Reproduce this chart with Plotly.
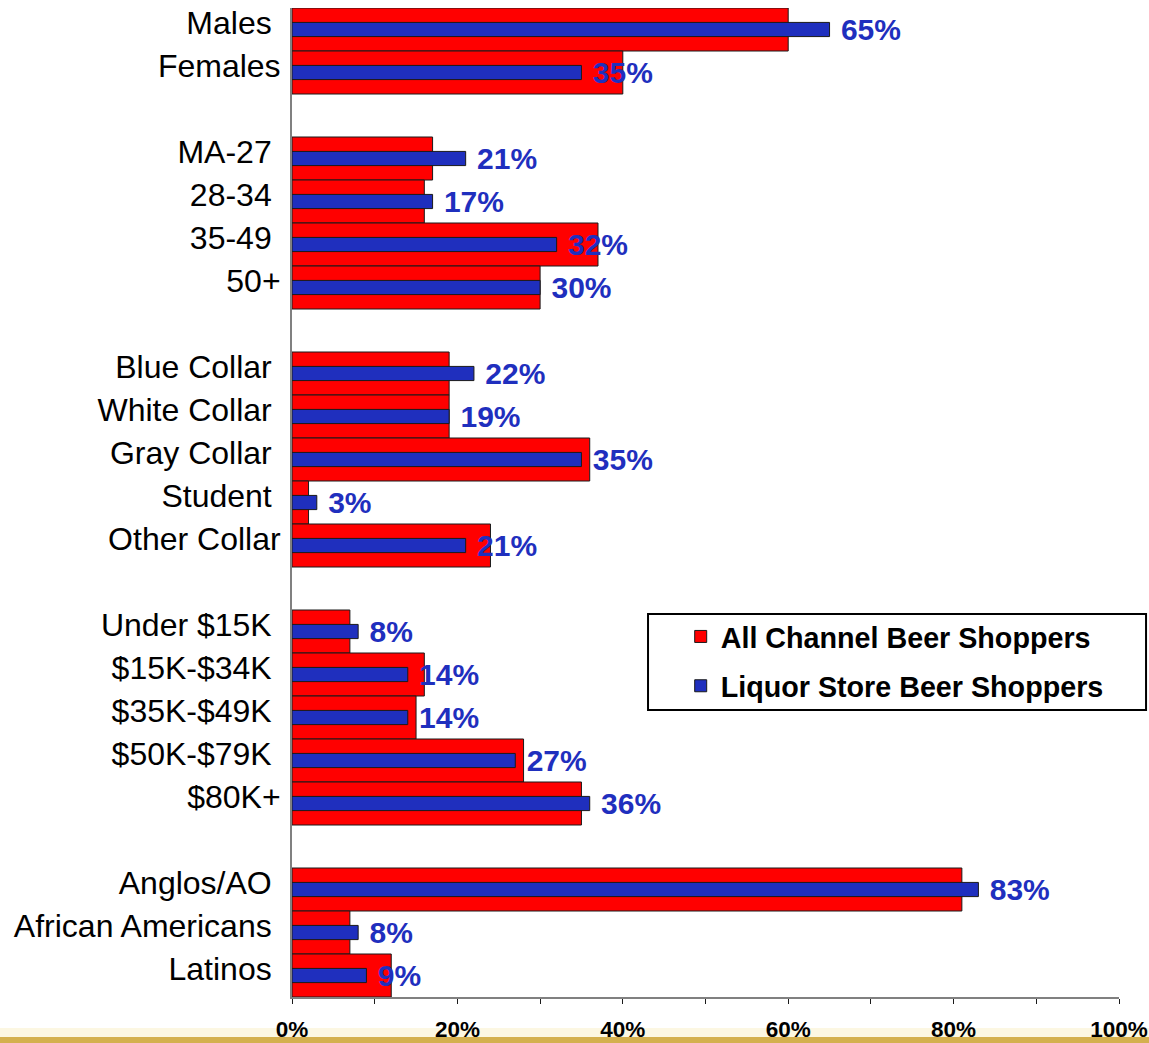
import plotly.graph_objects as go

# Shopper profile: share of each group, all channels vs. liquor stores
groups = [
    ["Males\u00a0", "Females"],
    ["MA-27\u00a0", "28-34\u00a0", "35-49\u00a0", "50+"],
    ["Blue Collar\u00a0", "White Collar\u00a0", "Gray Collar\u00a0", "Student\u00a0", "Other Collar"],
    ["Under $15K\u00a0", "$15K-$34K\u00a0", "$35K-$49K\u00a0", "$50K-$79K\u00a0", "$80K+"],
    ["Anglos/AO\u00a0", "African Americans\u00a0", "Latinos\u00a0"],
]
all_channel = [
    [60, 40],
    [17, 16, 37, 30],
    [19, 19, 36, 2, 24],
    [7, 16, 15, 28, 35],
    [81, 7, 12],
]
liquor_store = [
    [65, 35],
    [21, 17, 32, 30],
    [22, 19, 35, 3, 21],
    [8, 14, 14, 27, 36],
    [83, 8, 9],
]
x_ticks = [0, 20, 40, 60, 80, 100]
x_tick_text = [f"{t}%" for t in x_ticks]

RED = "#FF0000"
BLUE = "#1F2FBE"
EDGE = "#1a1a1a"
AXIS = "#808080"
FONT = "Liberation Sans, Arial, sans-serif"

# one empty slot between groups, first group at the top
n_slots = sum(len(g) for g in groups) + len(groups) - 1
labels, ypos, red_vals, blue_vals = [], [], [], []
slot = 0
for gi, g in enumerate(groups):
    for j, name in enumerate(g):
        labels.append(name)
        ypos.append(n_slots - 1 - slot)
        red_vals.append(all_channel[gi][j])
        blue_vals.append(liquor_store[gi][j])
        slot += 1
    slot += 1

fig = go.Figure()
fig.add_bar(
    y=ypos, x=red_vals, orientation="h", width=1.0,
    name="All Channel Beer Shoppers", legendgroup="a",
    marker=dict(color=RED, line=dict(color=EDGE, width=1)),
    hoverinfo="skip",
)
fig.add_bar(
    y=ypos, x=blue_vals, orientation="h", width=0.33,
    name="Liquor Store Beer Shoppers", legendgroup="b",
    marker=dict(color=BLUE, line=dict(color=EDGE, width=1)),
    text=[f"\u00a0{v}%" for v in blue_vals], textposition="outside",
    constraintext="none", cliponaxis=False,
    outsidetextfont=dict(family=FONT, size=30, color=BLUE, weight="bold"),
    hoverinfo="skip",
)

tick_font = dict(family=FONT, size=22.5, color="black", weight="bold")

fig.update_layout(
    width=1149, height=1043,
    margin=dict(l=292, r=30, t=8, b=46),
    paper_bgcolor="white", plot_bgcolor="white",
    barmode="overlay",
    showlegend=True,
    legend=dict(
        x=0.47, y=0.390, xanchor="left", yanchor="top",
        bgcolor="rgba(0,0,0,0)", borderwidth=0,
        tracegroupgap=9,
        font=dict(family=FONT, size=28.7, color="black", weight="bold"),
    ),
    xaxis=dict(
        range=[0, 100], tickvals=x_ticks, ticktext=x_tick_text,
        ticks="outside", ticklen=5, tickwidth=1, tickcolor=EDGE,
        minor=dict(dtick=10, ticks="outside", ticklen=5, tickwidth=1, tickcolor=EDGE),
        showline=True, linecolor=AXIS, linewidth=2,
        showgrid=False, zeroline=False, automargin=False,
        ticklabelstandoff=6,
        tickfont=tick_font,
    ),
    # tick marks crossing the axis line: the upper halves
    xaxis2=dict(
        overlaying="x", matches="x", anchor="y", side="bottom",
        range=[0, 100], dtick=10, ticks="inside", ticklen=5, tickwidth=1, tickcolor=EDGE,
        showticklabels=False, showline=False, showgrid=False, zeroline=False,
        automargin=False,
    ),
    yaxis=dict(
        range=[-0.5, n_slots - 0.5],
        tickvals=ypos, ticktext=labels,
        ticks="", showline=True, linecolor=AXIS, linewidth=2,
        showgrid=False, zeroline=False, automargin=False,
        ticklabelshift=-7, ticklabelstandoff=3,
        tickfont=dict(family=FONT, size=32, color="black"),
    ),
    shapes=[
        # legend frame
        dict(type="rect", xref="paper", yref="paper",
             x0=0.4305, x1=1.0327, y0=0.2902, y1=0.3873,
             line=dict(color="black", width=2), fillcolor="white", layer="below"),
        # slide footer band
        dict(type="rect", xref="paper", yref="paper",
             x0=-0.36, x1=1.04, y0=-0.0405, y1=-0.0313,
             line=dict(width=0), fillcolor="#fcf7e2", layer="below"),
        dict(type="rect", xref="paper", yref="paper",
             x0=-0.36, x1=1.04, y0=-0.047, y1=-0.0405,
             line=dict(width=0), fillcolor="#d4b04e", layer="below"),
    ],
)

fig.write_html("out.html")
